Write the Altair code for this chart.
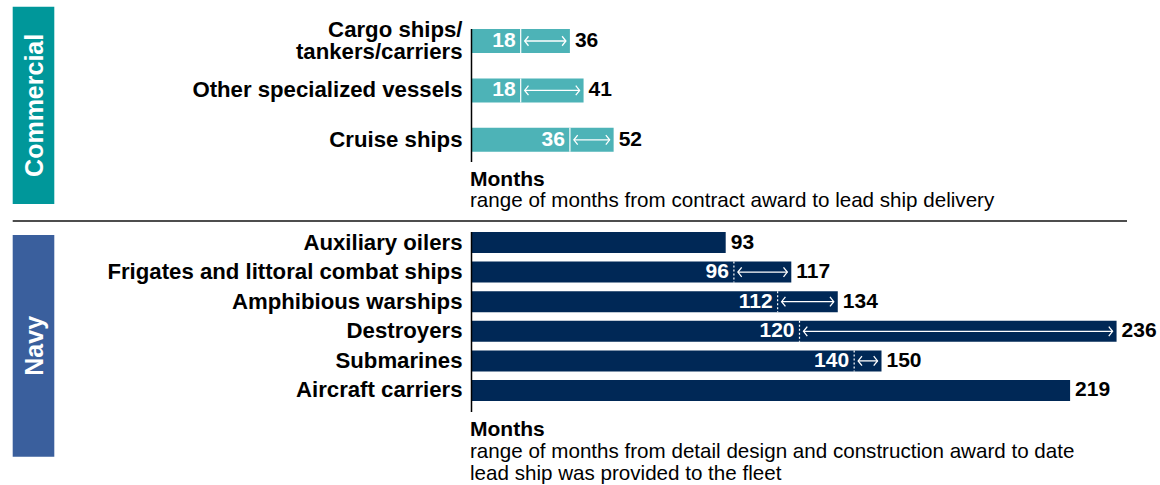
import altair as alt
import pandas as pd

FONT = "Liberation Sans"

# ---- data ----
com_cats = ["Cargo ships/\ntankers/carriers", "Other specialized vessels", "Cruise ships"]
com_low = [18, 18, 36]
com_high = [36, 41, 52]

navy_cats = [
    "Auxiliary oilers",
    "Frigates and littoral combat ships",
    "Amphibious warships",
    "Destroyers",
    "Submarines",
    "Aircraft carriers",
]
navy_low = [None, 96, 112, 120, 140, None]
navy_high = [93, 117, 134, 236, 150, 219]

section_names = ["Commercial", "Navy"]
axis_title = ["Months"]
com_sub = ["range of months from contract award to lead ship delivery"]
navy_sub = ["range of months from detail design and construction award to date\nlead ship was provided to the fleet"]

XS = alt.Scale(domain=[0, 240], nice=False, zero=True)


def section(cats, low, high, bar_color, yrange, pi, po):
    df = pd.DataFrame({"cat": cats, "low": low, "high": high})
    y = alt.Y("cat:N", scale=alt.Scale(domain=cats, range=yrange, paddingInner=pi,
                                       paddingOuter=po, align=0), axis=None)
    base = alt.Chart(df)
    ranged = base.transform_filter("isValid(datum.low)")
    bars = base.mark_bar(color=bar_color).encode(
        x=alt.X("high:Q", scale=XS, axis=None), y=y)
    dashes = ranged.mark_bar(fillOpacity=0, stroke="white", strokeWidth=1.2,
                             strokeDash=[2, 2]).encode(
        x=alt.X("low:Q", scale=XS, axis=None), x2=alt.X2("low"), y=y)
    line = ranged.mark_rule(color="white", strokeWidth=1.3, xOffset=4, x2Offset=-4).encode(
        x=alt.X("low:Q", scale=XS, axis=None), x2=alt.X2("high"), y=y)
    lhead = ranged.mark_point(shape="M0.8,-1L0,0L0.8,1", size=90, filled=False, color="white",
                              strokeWidth=1.3, opacity=1, xOffset=4).encode(
        x=alt.X("low:Q", scale=XS, axis=None), y=y)
    rhead = ranged.mark_point(shape="M-0.8,-1L0,0L-0.8,1", size=90, filled=False, color="white",
                              strokeWidth=1.3, opacity=1, xOffset=-4).encode(
        x=alt.X("high:Q", scale=XS, axis=None), y=y)
    low_lab = ranged.mark_text(align="right", baseline="middle", dx=-5, color="white",
                               font=FONT, fontSize=21, fontWeight="bold").encode(
        x=alt.X("low:Q", scale=XS, axis=None), y=y, text=alt.Text("low:Q", format="d"))
    high_lab = base.mark_text(align="left", baseline="middle", dx=5, color="black",
                              font=FONT, fontSize=21, fontWeight="bold").encode(
        x=alt.X("high:Q", scale=XS, axis=None), y=y, text=alt.Text("high:Q", format="d"))
    single = base.transform_filter("indexof(datum.cat, '\\n') < 0").mark_text(
        align="right", baseline="middle", font=FONT, fontSize=22.2, fontWeight="bold",
        color="black").encode(x=alt.value(-9), y=y, text="cat:N")
    multi = base.transform_filter("indexof(datum.cat, '\\n') >= 0").mark_text(
        align="right", baseline="middle", lineBreak="\n", lineHeight=22, dy=-11,
        font=FONT, fontSize=22.2, fontWeight="bold", color="black").encode(
        x=alt.value(-9), y=y, text="cat:N")
    return alt.layer(bars, dashes, line, lhead, rhead, low_lab, high_lab, single, multi)


com = section(com_cats, com_low, com_high, "#4db3b7", [29, 162], 0.514, 0.103)
navy = section(navy_cats, navy_low, navy_high, "#002856", [232, 412], 0.29, 0.186)

# ---- decorations ----
def band(name_idx, color, y0, y1):
    d = pd.DataFrame({"t": [section_names[name_idx]]})
    rect = alt.Chart(d).mark_rect(color=color).encode(
        x=alt.value(-458.8), x2=alt.value(-417.2), y=alt.value(y0), y2=alt.value(y1))
    txt = alt.Chart(d).mark_text(angle=270, color="white", font=FONT, fontSize=25,
                                 fontWeight="bold", align="center", baseline="middle").encode(
        x=alt.value(-437), y=alt.value((y0 + y1) / 2), text="t:N")
    return rect + txt


def caption(sub, y_title, y_sub):
    t = alt.Chart(pd.DataFrame({"t": axis_title})).mark_text(
        align="left", baseline="alphabetic", font=FONT, fontSize=21, fontWeight="bold",
        color="black").encode(x=alt.value(-1.5), y=alt.value(y_title), text="t:N")
    s = alt.Chart(pd.DataFrame({"t": sub})).mark_text(
        align="left", baseline="alphabetic", font=FONT, fontSize=20.6, lineBreak="\n",
        lineHeight=22, color="black").encode(x=alt.value(-1.5), y=alt.value(y_sub), text="t:N")
    return t + s


one = pd.DataFrame({"t": ["x"]})
axis_com = alt.Chart(one).mark_rule(color="black", strokeWidth=1.5).encode(
    x=alt.value(0), y=alt.value(29), y2=alt.value(162))
axis_navy = alt.Chart(one).mark_rule(color="black", strokeWidth=1.5).encode(
    x=alt.value(0), y=alt.value(232), y2=alt.value(412))
sep = alt.Chart(one).mark_rule(color="#4d4d4d", strokeWidth=2).encode(
    x=alt.value(-458.8), x2=alt.value(655.5), y=alt.value(221))

chart = alt.layer(
    com, navy,
    band(0, "#00979a", 6.7, 204), band(1, "#3a5f9d", 235, 456.7),
    axis_com, axis_navy, sep,
    caption(com_sub, 186, 207), caption(navy_sub, 435.5, 458),
).resolve_scale(y="independent").properties(
    width=656, height=485,
    autosize=alt.AutoSizeParams(type="none"),
    padding={"left": 471.5, "top": 0, "right": 32.5, "bottom": 0},
    background="white",
).configure_view(stroke=None)

chart.save("out.html", embed_options={"renderer": "svg", "actions": False})
